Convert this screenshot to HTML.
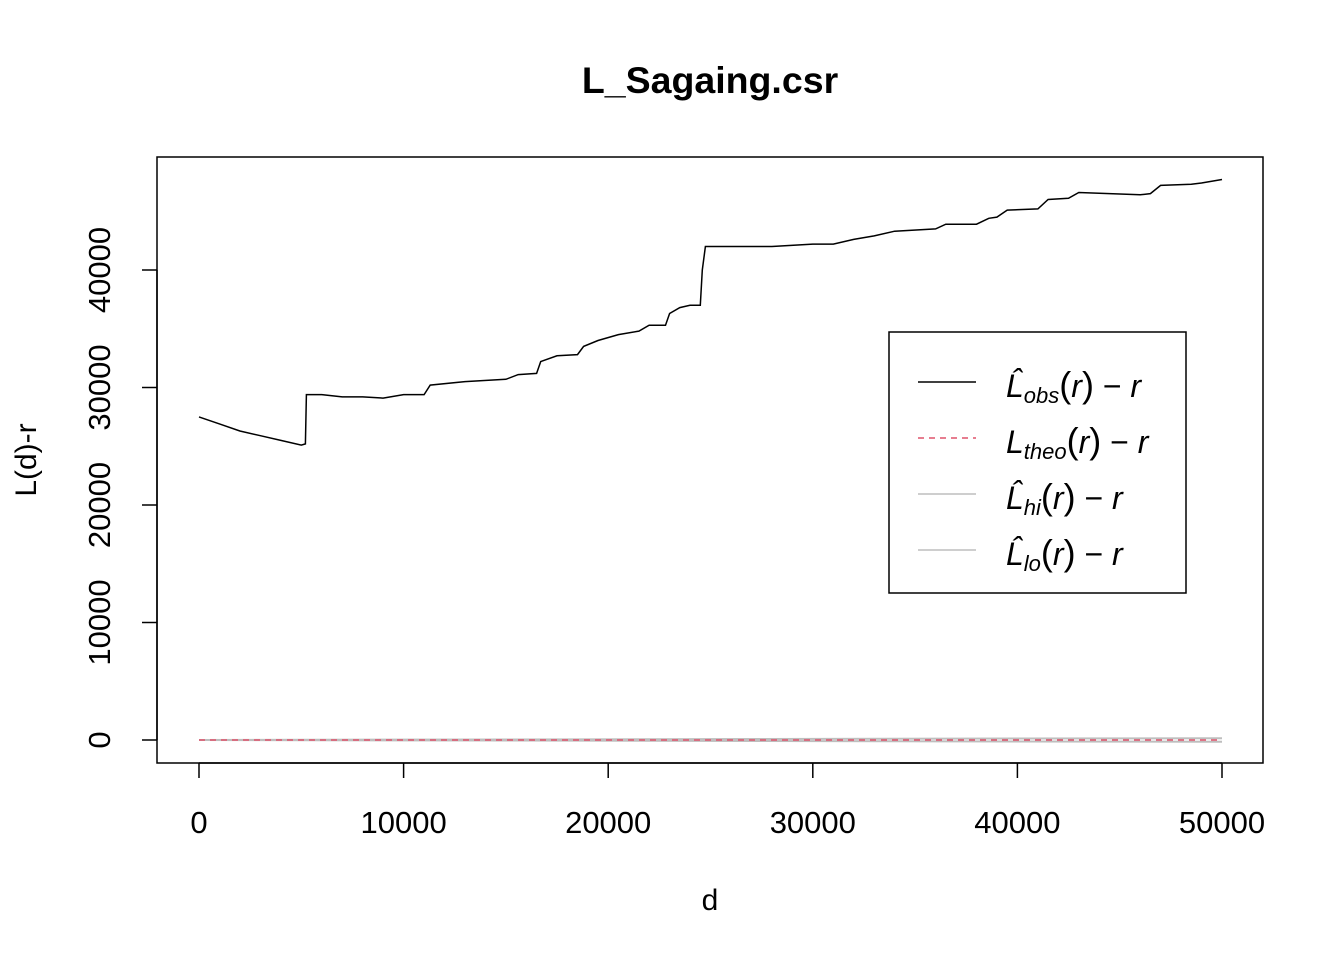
<!DOCTYPE html>
<html><head><meta charset="utf-8"><style>
body{margin:0;background:#fff}
svg text{font-family:"Liberation Sans",sans-serif}
</style></head><body>
<svg id="chart" width="1344" height="960" xmlns="http://www.w3.org/2000/svg">
<text x="710" y="93" font-size="37.5" font-weight="bold" text-anchor="middle">L_Sagaing.csr</text>
<rect x="157" y="157" width="1106" height="606" fill="none" stroke="#000" stroke-width="1.5"/>
<g id="xaxis"></g>
<g id="yaxis"></g>
<text x="710" y="910" font-size="30" text-anchor="middle">d</text>
<text transform="translate(36,460) rotate(-90)" font-size="30" text-anchor="middle">L(d)-r</text>
<g id="series"></g>
<g>
<rect x="889" y="332" width="297" height="261" fill="#fff" stroke="#000" stroke-width="1.5"/>
<line x1="918" y1="382" x2="976" y2="382" stroke="#000" stroke-width="1.5"/>
<text x="1006" y="397" font-size="32" font-style="italic">L̂<tspan font-size="22" dy="6">obs</tspan><tspan dy="-6" font-style="normal" font-size="36">(</tspan>r<tspan font-style="normal" font-size="36">)</tspan><tspan font-style="normal"> − </tspan>r</text>
<line x1="918" y1="438" x2="976" y2="438" stroke="#df536b" stroke-width="1.5" stroke-dasharray="6,5"/>
<text x="1006" y="453" font-size="32" font-style="italic">L<tspan font-size="22" dy="6">theo</tspan><tspan dy="-6" font-style="normal" font-size="36">(</tspan>r<tspan font-style="normal" font-size="36">)</tspan><tspan font-style="normal"> − </tspan>r</text>
<line x1="918" y1="494" x2="976" y2="494" stroke="#bebebe" stroke-width="1.5"/>
<text x="1006" y="509" font-size="32" font-style="italic">L̂<tspan font-size="22" dy="6">hi</tspan><tspan dy="-6" font-style="normal" font-size="36">(</tspan>r<tspan font-style="normal" font-size="36">)</tspan><tspan font-style="normal"> − </tspan>r</text>
<line x1="918" y1="550" x2="976" y2="550" stroke="#bebebe" stroke-width="1.5"/>
<text x="1006" y="565" font-size="32" font-style="italic">L̂<tspan font-size="22" dy="6">lo</tspan><tspan dy="-6" font-style="normal" font-size="36">(</tspan>r<tspan font-style="normal" font-size="36">)</tspan><tspan font-style="normal"> − </tspan>r</text>
</g>
</svg>
<script>
const xTicks=[0,10000,20000,30000,40000,50000];
const yTicks=[0,10000,20000,30000,40000];
const obsD=[0,1000,2000,3000,4000,5000,5200,5250,6000,7000,8000,9000,10000,11000,11300,13000,15000,15600,16500,16700,17500,18500,18800,19500,20500,21500,22000,22800,23000,23500,24000,24500,24600,24750,26000,28000,30000,31000,32000,33000,34000,36000,36500,38000,38600,39000,39500,41000,41500,42500,43000,46000,46500,47000,48500,49000,50000];
const obsL=[27500,26900,26300,25900,25500,25100,25200,29400,29400,29200,29200,29100,29400,29400,30200,30500,30700,31100,31200,32200,32700,32800,33500,34000,34500,34800,35300,35300,36300,36800,37000,37000,40000,42000,42000,42000,42200,42200,42600,42900,43300,43500,43900,43900,44400,44500,45100,45200,46000,46100,46600,46400,46500,47200,47300,47400,47700];
const envD=[0,50000];
const theoL=[0,0];
const hiL=[0,150];
const loL=[0,-150];
const NS="http://www.w3.org/2000/svg";
const xs=d=>199+d*(1023/50000);
const ys=v=>740-v*(470/40000);
function mk(tag,attrs,parent){const e=document.createElementNS(NS,tag);for(const k in attrs)e.setAttribute(k,attrs[k]);parent.appendChild(e);return e;}
const xa=document.getElementById('xaxis'),ya=document.getElementById('yaxis'),sg=document.getElementById('series');
mk('line',{x1:xs(0),y1:763,x2:xs(50000),y2:763,stroke:'#000','stroke-width':1.5},xa);
xTicks.forEach(t=>{
 const l=mk('line',{x1:xs(t),y1:763,x2:xs(t),y2:778,stroke:'#000','stroke-width':1.5},xa);
 
 
 const tx=mk('text',{x:xs(t),y:833,'font-size':31,'text-anchor':'middle'},xa);tx.textContent=t;
 
 
});
mk('line',{x1:157,y1:ys(0),x2:157,y2:ys(40000),stroke:'#000','stroke-width':1.5},ya);
yTicks.forEach(t=>{
 const l=mk('line',{x1:142,y1:ys(t),x2:157,y2:ys(t),stroke:'#000','stroke-width':1.5},ya);
 
 
 const tx=mk('text',{transform:`translate(110,${ys(t)}) rotate(-90)`,'font-size':31,'text-anchor':'middle'},ya);tx.textContent=t;
 
 
});
function pts(D,V){return D.map((d,i)=>xs(d).toFixed(1)+','+ys(V[i]).toFixed(1)).join(' ');}
const hi=mk('polyline',{points:pts(envD,hiL),fill:'none',stroke:'#bebebe','stroke-width':2},sg);


const lo=mk('polyline',{points:pts(envD,loL),fill:'none',stroke:'#bebebe','stroke-width':2},sg);


const th=mk('polyline',{points:pts(envD,theoL),fill:'none',stroke:'#df536b','stroke-width':1.5,'stroke-dasharray':'6,5'},sg);


const ob=mk('polyline',{points:pts(obsD,obsL),fill:'none',stroke:'#000','stroke-width':1.5},sg);


</script>
</body></html>
